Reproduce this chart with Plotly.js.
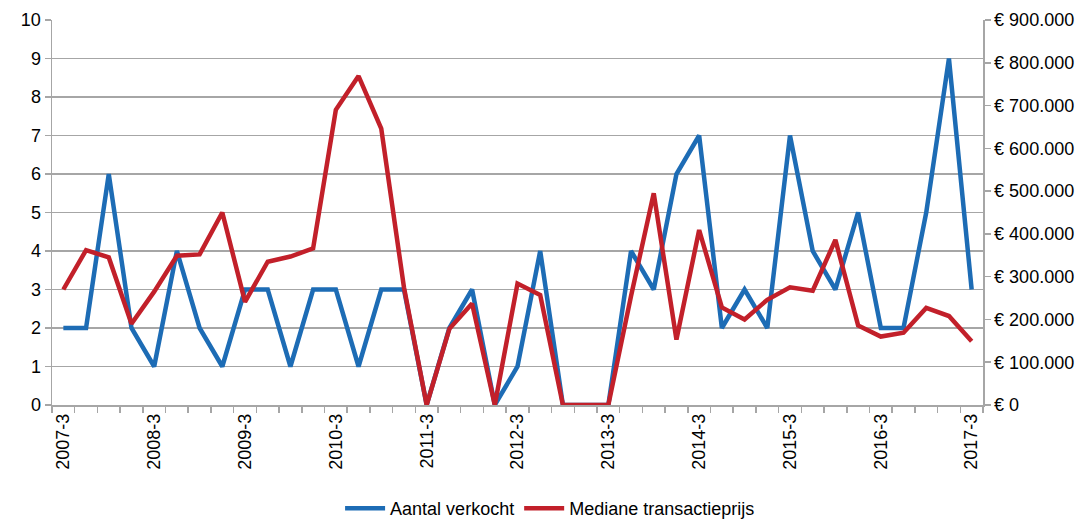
<!DOCTYPE html>
<html>
<head>
<meta charset="utf-8">
<script src="https://cdn.plot.ly/plotly-3.0.1.min.js"></script>
<style>html,body{margin:0;padding:0;background:#fff;}#chart{width:1081px;height:519px;}</style>
</head>
<body>
<div id="chart"></div>
<script>
var quarters = ["2007-3","2007-4","2008-1","2008-2","2008-3","2008-4","2009-1","2009-2","2009-3","2009-4",
  "2010-1","2010-2","2010-3","2010-4","2011-1","2011-2","2011-3","2011-4","2012-1","2012-2",
  "2012-3","2012-4","2013-1","2013-2","2013-3","2013-4","2014-1","2014-2","2014-3","2014-4",
  "2015-1","2015-2","2015-3","2015-4","2016-1","2016-2","2016-3","2016-4","2017-1","2017-2","2017-3"];
var aantalVerkocht = [2,2,6,2,1,4,2,1,3,3,1,3,3,1,3,3,0,2,3,0,1,4,0,0,0,4,3,6,7,2,3,2,7,4,3,5,2,2,5,9,3];
var medianePrijs = [270000,362000,345000,190000,265000,349000,352000,450000,241000,335000,
  347000,366000,690000,769000,646000,275000,0,178000,237000,0,284000,257000,0,0,0,255000,
  495000,153000,409000,228000,200000,246000,275000,267000,386000,186000,160000,169000,227000,208000,149000];
var labelQuarters = quarters.filter(function(q){ return /-3$/.test(q); });

var idx = quarters.map(function(_, i){ return i; });
var tickIdx = labelQuarters.map(function(q){ return quarters.indexOf(q); });

var font = {family: "Liberation Sans, Arial, sans-serif", size: 18, color: "#000"};
var gridColor = "#a6a6a6";

var traces = [
  {x: idx, y: aantalVerkocht, name: "Aantal verkocht", type: "scatter", mode: "lines",
   line: {color: "#1d6cb5", width: 4.5}, yaxis: "y"},
  {x: idx, y: medianePrijs, name: "Mediane transactieprijs", type: "scatter", mode: "lines",
   line: {color: "#c2202a", width: 4.5}, yaxis: "y2"}
];

var layout = {
  width: 1081, height: 519,
  margin: {l: 52, r: 98, t: 20, b: 114},
  paper_bgcolor: "#fff", plot_bgcolor: "#fff",
  separators: ",.",
  font: font,
  showlegend: true,
  legend: {orientation: "h", x: 0.535, xanchor: "center", yref: "container", y: 0.02, yanchor: "middle",
           font: font, itemwidth: 40, tracegroupgap: 0},
  xaxis: {
    range: [-0.5, 40.5], tickmode: "array", tickvals: tickIdx, ticktext: labelQuarters,
    tickangle: -90, ticks: "", showgrid: false, zeroline: false,
    showline: true, linecolor: gridColor, linewidth: 1.5,
    tickfont: font,
    minor: {tickmode: "linear", tick0: -0.5, dtick: 1, ticks: "outside", ticklen: 6,
            tickcolor: gridColor, tickwidth: 1.5, showgrid: false}
  },
  yaxis: {
    range: [0, 10], dtick: 1, tick0: 0, showgrid: true, gridcolor: gridColor, gridwidth: 1.5,
    zeroline: false, showline: true, linecolor: gridColor, linewidth: 1.5,
    ticks: "outside", ticklen: 6, tickcolor: gridColor, tickwidth: 1.5, tickfont: font
  },
  yaxis2: {
    range: [0, 900000], dtick: 100000, tick0: 0, overlaying: "y", side: "right",
    showgrid: false, zeroline: false, showline: true, linecolor: gridColor, linewidth: 1.5,
    ticks: "outside", ticklen: 6, tickcolor: gridColor, tickwidth: 1.5,
    tickprefix: "€ ", tickformat: ",d", tickfont: font
  }
};

Plotly.newPlot("chart", traces, layout, {displayModeBar: false, staticPlot: true});
</script>
</body>
</html>
